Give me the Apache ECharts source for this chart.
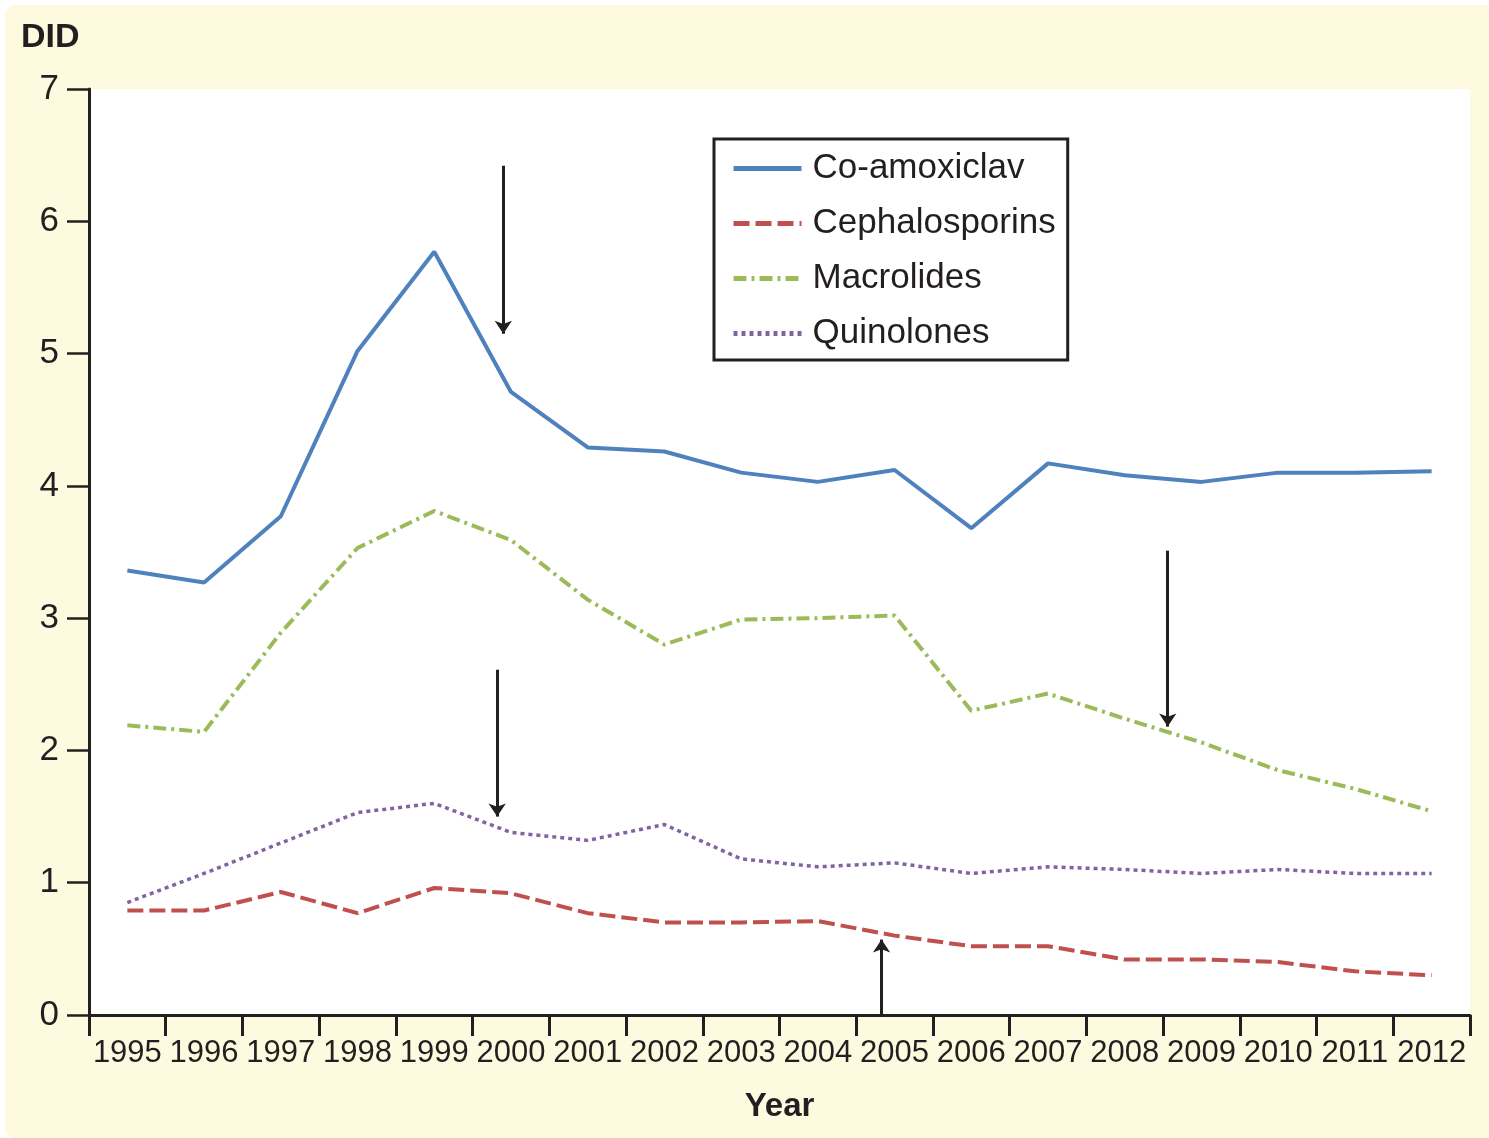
<!DOCTYPE html>
<html>
<head>
<meta charset="utf-8">
<script src="https://cdn.jsdelivr.net/npm/echarts@6/dist/echarts.min.js"></script>
<style>
  html, body { margin: 0; padding: 0; background: #ffffff; }
  #bg { position: absolute; left: 5px; top: 5px; width: 1484px; height: 1133px; background: #fefadf; border-radius: 10px 0 0 10px; }
  #chart { position: absolute; left: 0; top: 0; width: 1489px; height: 1138px; }
</style>
</head>
<body>
<div id="bg"></div>
<div id="chart"></div>
<script>
const years = ['1995','1996','1997','1998','1999','2000','2001','2002','2003','2004','2005','2006','2007','2008','2009','2010','2011','2012'];
const coAmoxiclav   = [3.36, 3.27, 3.77, 5.02, 5.77, 4.71, 4.29, 4.26, 4.10, 4.03, 4.12, 3.68, 4.17, 4.08, 4.03, 4.10, 4.10, 4.11];
const cephalosporins = [0.79, 0.79, 0.93, 0.77, 0.96, 0.92, 0.77, 0.70, 0.70, 0.71, 0.60, 0.52, 0.52, 0.42, 0.42, 0.40, 0.33, 0.30];
const macrolides    = [2.19, 2.14, 2.89, 3.53, 3.81, 3.59, 3.14, 2.80, 2.99, 3.00, 3.02, 2.30, 2.43, 2.24, 2.06, 1.85, 1.71, 1.54];
const quinolones    = [0.85, 1.07, 1.30, 1.53, 1.60, 1.38, 1.32, 1.44, 1.18, 1.12, 1.15, 1.07, 1.12, 1.10, 1.07, 1.10, 1.07, 1.07];
const yTicks = [0, 1, 2, 3, 4, 5, 6, 7];
// annotation arrows: [x position in category units, start value, end (tip) value]
const arrows = [
  [4.90, 6.42, 5.15],
  [4.82, 2.61, 1.50],
  [13.56, 3.51, 2.18],
  [9.83, 0.00, 0.57]
];

const ink = '#231f20';
const font = 'Liberation Sans, Arial, Helvetica, sans-serif';

const chart = echarts.init(document.getElementById('chart'), null, { renderer: 'canvas' });

const lineSeries = (name, data, color, type, width) => ({
  name, type: 'line', data,
  xAxisIndex: 0, yAxisIndex: 0,
  symbol: 'none', showSymbol: false,
  lineStyle: { color, width, type, cap: 'butt' },
  itemStyle: { color },
  z: 3
});

chart.setOption({
  animation: false,
  backgroundColor: 'transparent',
  title: {
    text: 'DID', left: 16, top: 16,
    textStyle: { fontFamily: font, fontSize: 34, fontWeight: 'bold', color: ink }
  },
  grid: {
    left: 89, top: 89, right: 19, bottom: 123,
    show: true, backgroundColor: '#ffffff', borderWidth: 0
  },
  legend: {
    orient: 'vertical',
    left: 714, top: 139,
    padding: [12, 12, 9, 17],
    itemGap: 20,
    itemWidth: 68, itemHeight: 14,
    backgroundColor: '#ffffff',
    borderColor: ink, borderWidth: 3,
    itemStyle: { opacity: 0, borderWidth: 0 },
    lineStyle: { width: 5 },
    textStyle: { fontFamily: font, fontSize: 35, color: ink, padding: [0, 0, 0, 6] },
    data: ['Co-amoxiclav', 'Cephalosporins', 'Macrolides', 'Quinolones']
  },
  xAxis: [{
    type: 'category',
    data: years,
    boundaryGap: true,
    name: 'Year',
    nameLocation: 'middle',
    nameGap: 75,
    nameTextStyle: { fontFamily: font, fontSize: 33, fontWeight: 'bold', color: ink },
    axisLine: { lineStyle: { color: ink, width: 3 } },
    axisTick: { show: true, alignWithLabel: false, length: 21, lineStyle: { color: ink, width: 3 } },
    axisLabel: { interval: 0, margin: 23, fontFamily: font, fontSize: 31, color: ink },
    splitLine: { show: false }
  }, {
    type: 'value',
    min: -0.5, max: 17.5,
    show: false,
    splitLine: { show: false }
  }],
  yAxis: {
    type: 'value',
    min: yTicks[0], max: yTicks[yTicks.length - 1], interval: 1,
    axisLine: { show: true, onZero: false, lineStyle: { color: ink, width: 3 } },
    axisTick: { show: true, length: 22, lineStyle: { color: ink, width: 2.5 } },
    axisLabel: { margin: 30, fontFamily: font, fontSize: 35, color: ink },
    splitLine: { show: false }
  },
  series: [
    lineSeries('Co-amoxiclav', coAmoxiclav, '#4f81bd', 'solid', 4),
    lineSeries('Cephalosporins', cephalosporins, '#c0504d', [16, 6], 4),
    lineSeries('Macrolides', macrolides, '#9bbb59', [13, 5, 3, 5], 4),
    lineSeries('Quinolones', quinolones, '#8064a2', [4, 4], 3.5),
    {
      name: 'arrows', type: 'line', data: [],
      xAxisIndex: 1, yAxisIndex: 0,
      symbol: 'none',
      markLine: {
        silent: true,
        symbol: ['none', 'arrow'],
        symbolSize: 13,
        label: { show: false },
        lineStyle: { color: ink, width: 3, type: 'solid' },
        data: arrows.map(a => [{ coord: [a[0], a[1]] }, { coord: [a[0], a[2]] }])
      },
      z: 5
    }
  ]
});
</script>
</body>
</html>
